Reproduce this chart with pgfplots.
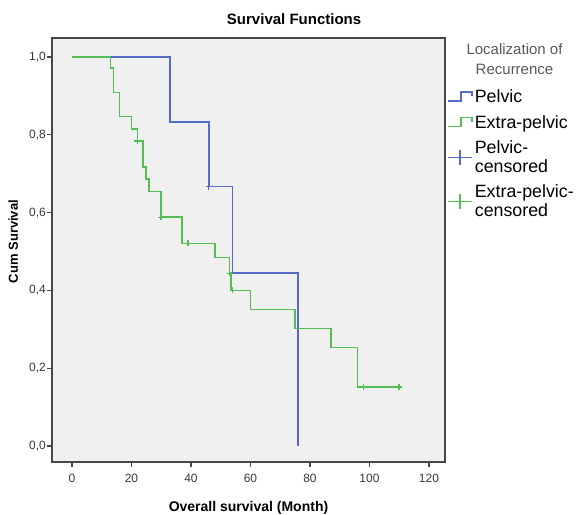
\documentclass[border=0pt]{standalone}
\usepackage{fontspec}
\setmainfont{Liberation Sans}
\usepackage{pgfplots}
\pgfplotsset{compat=1.18}
\definecolor{cPelvic}{RGB}{88,106,200}
\definecolor{cExtra}{RGB}{84,190,84}
\definecolor{bgray}{RGB}{240,240,240}
\pgfplotsset{
  steplegend/.style={legend image code/.code={\draw[##1] (0pt,-4pt) -- (13pt,-4pt) -- (13pt,5pt) -- (24pt,5pt) -- (24pt,1pt);}},
  censlegend/.style={legend image code/.code={\draw[##1,line width=1.4pt] (0pt,0pt) -- (24pt,0pt); \draw[##1,line width=1.4pt] (12pt,-7.5pt) -- (12pt,7.5pt);}},
}
\begin{document}
\begin{tikzpicture}
\useasboundingbox (-52pt,-52pt) rectangle (525pt,462pt);
\begin{axis}[
  scale only axis,
  width=393pt, height=424pt,
  xmin=-6.7, xmax=125.4,
  ymin=-0.041, ymax=1.049,
  axis background/.style={fill=bgray},
  axis line style={draw=black!72, line width=1.3pt},
  xtick={0,20,...,120},
  ytick={0,0.2,0.4,0.6,0.8,1.0},
  xtick pos=bottom, ytick pos=left,
  tick align=outside,
  major tick length=5pt,
  tick style={black!72, line width=1.2pt},
  /pgf/number format/assume math mode=true,
  ticklabel style={font=\fontsize{12}{13}\selectfont, text=black!78},
  yticklabel style={inner xsep=1pt, /pgf/number format/.cd, fixed, fixed zerofill, precision=1, use comma},
  xticklabel style={yshift=-4pt, /pgf/number format/.cd, fixed, precision=0},
  title={\textbf{Survival Functions}},
  title style={at={(axis description cs:0.616,1.017)}, anchor=base, font=\fontsize{15}{17}\selectfont},
  xlabel={\textbf{Overall survival (Month)}},
  xlabel style={at={(axis description cs:0.5,-0.1156)}, anchor=base, font=\fontsize{14}{16}\selectfont},
  ylabel={\textbf{Cum Survival}},
  ylabel style={at={(axis description cs:-0.0986,0.52)}, anchor=center, font=\fontsize{13}{15}\selectfont},
  legend style={at={(axis description cs:1.005,0.878)}, anchor=north west, draw=none, fill=none,
    font=\fontsize{17.8}{18.5}\selectfont, row sep=11pt, inner xsep=0pt, inner ysep=0pt,
    nodes={inner xsep=2pt, inner ysep=0pt},
    cells={align=left, anchor=west}},
  legend cell align=left,
]
% Pelvic
\addplot[const plot, color=cPelvic, line width=1.7pt, steplegend]
  coordinates {(0,1) (33,0.833) (46,0.667) (54,0.444) (76,0)};
% Extra-pelvic
\addplot[const plot, color=cExtra, line width=1.7pt, steplegend]
  coordinates {(0,1) (13,0.971) (14,0.909) (16,0.847) (20,0.815) (22,0.784)
    (24,0.718) (25,0.686) (26,0.654) (30,0.588) (37,0.521) (48,0.485)
    (53,0.444) (53.4,0.400) (60,0.351) (75,0.302) (87,0.253) (96,0.152) (110,0.152)};
% Pelvic censored
\addplot[only marks, mark=+, mark size=3pt, color=cPelvic, line width=1.4pt, censlegend]
  coordinates {(46,0.667)};
% Extra-pelvic censored
\addplot[only marks, mark=+, mark size=3pt, color=cExtra, line width=1.4pt, censlegend]
  coordinates {(22,0.784) (30,0.588) (39,0.521) (53,0.444) (54,0.400) (98,0.152) (110,0.152)};
\legend{\strut Pelvic, \strut Extra-pelvic, {\strut Pelvic-\\\strut censored}, {\strut Extra-pelvic-\\\strut censored}}
\end{axis}
\node[align=center, text=black!65, font=\fontsize{15}{19.5}\selectfont] at (462.5pt,403pt) {Localization of\\Recurrence};
\end{tikzpicture}
\end{document}
